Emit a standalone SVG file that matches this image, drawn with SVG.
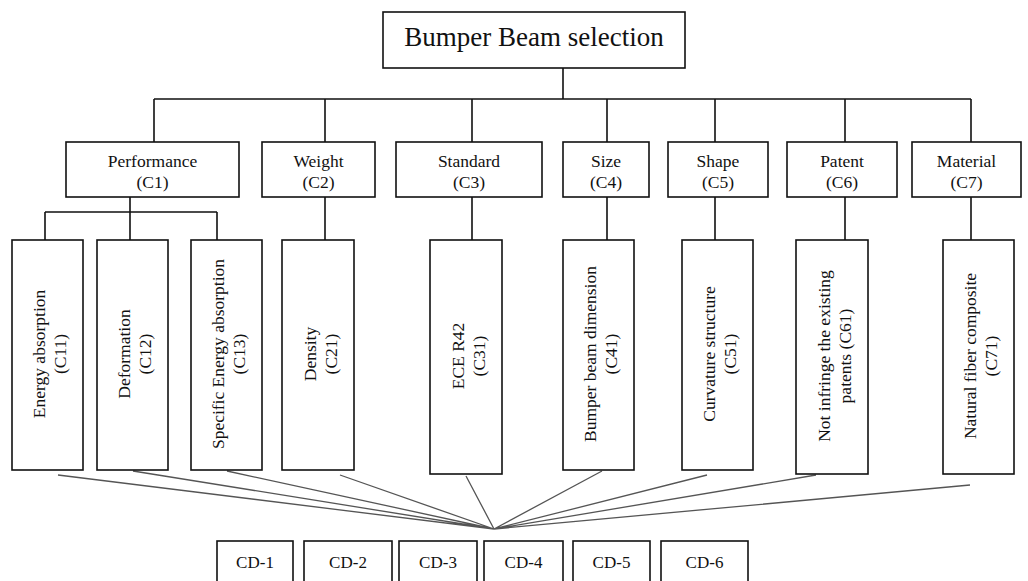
<svg xmlns="http://www.w3.org/2000/svg" width="1028" height="581" viewBox="0 0 1028 581">
<style>
.box{fill:#fff;stroke:#111;stroke-width:1.6}
.t{font-family:"Liberation Serif","Times New Roman",serif;fill:#111;text-anchor:middle}
.s{font-size:17.5px}
.title{font-size:27px}
.cd{font-size:17px}
.tree{fill:none;stroke:#111;stroke-width:1.6}
.fan{fill:none;stroke:#555;stroke-width:1.3}
</style>
<rect width="1028" height="581" fill="#fff"/>
<g id="connectors">
<path class="tree" d="M563 68V99M154 99H971M154 99V142M325 99V142M472 99V142M607 99V142M715 99V142M845 99V142M971 99V142"/>
<path class="tree" d="M130 197V212M45 212H217M45 212V240M130 212V240M217 212V240"/>
<path class="tree" d="M325 197V240M472 197V240M607 197V240M715 197V240M845 197V240M971 197V240"/>
<path class="fan" d="M58 475L494 529M133 471L494 529M227 471L494 529M340 475L494 529M466 476L494 529M602 471L494 529M707 475L494 529M816 475L494 529M970 485L494 529"/>
</g>
<g id="root"><rect class="box" x="383" y="12" width="302" height="56"/><text class="t title" x="534" y="46">Bumper Beam selection</text></g>
<g id="C1"><rect class="box" x="66" y="142" width="173" height="55"/><text class="t s" x="152.5" y="167">Performance</text><text class="t s" x="152.5" y="188">(C1)</text></g>
<g id="C2"><rect class="box" x="262" y="142" width="113" height="55"/><text class="t s" x="318.5" y="167">Weight</text><text class="t s" x="318.5" y="188">(C2)</text></g>
<g id="C3"><rect class="box" x="396" y="142" width="146" height="55"/><text class="t s" x="469" y="167">Standard</text><text class="t s" x="469" y="188">(C3)</text></g>
<g id="C4"><rect class="box" x="563" y="142" width="86" height="55"/><text class="t s" x="606" y="167">Size</text><text class="t s" x="606" y="188">(C4)</text></g>
<g id="C5"><rect class="box" x="668" y="142" width="100" height="55"/><text class="t s" x="718" y="167">Shape</text><text class="t s" x="718" y="188">(C5)</text></g>
<g id="C6"><rect class="box" x="787" y="142" width="110" height="55"/><text class="t s" x="842" y="167">Patent</text><text class="t s" x="842" y="188">(C6)</text></g>
<g id="C7"><rect class="box" x="912" y="142" width="109" height="55"/><text class="t s" x="966.5" y="167">Material</text><text class="t s" x="966.5" y="188">(C7)</text></g>
<g id="C11"><rect class="box" x="12" y="240" width="71" height="230"/><text class="t s" transform="translate(47.5 354) rotate(-90)"><tspan x="0" y="-2.5">Energy absorption</tspan><tspan x="0" y="18.5">(C11)</tspan></text></g>
<g id="C12"><rect class="box" x="97" y="240" width="71" height="230"/><text class="t s" transform="translate(132.5 354) rotate(-90)"><tspan x="0" y="-2.5">Deformation</tspan><tspan x="0" y="18.5">(C12)</tspan></text></g>
<g id="C13"><rect class="box" x="191" y="240" width="71" height="230"/><text class="t s" transform="translate(226.5 354) rotate(-90)"><tspan x="0" y="-2.5">Specific Energy absorption</tspan><tspan x="0" y="18.5">(C13)</tspan></text></g>
<g id="C21"><rect class="box" x="282" y="240" width="72" height="230"/><text class="t s" transform="translate(318 354) rotate(-90)"><tspan x="0" y="-2.5">Density</tspan><tspan x="0" y="18.5">(C21)</tspan></text></g>
<g id="C31"><rect class="box" x="430" y="240" width="72" height="234"/><text class="t s" transform="translate(466 356) rotate(-90)"><tspan x="0" y="-2.5">ECE R42</tspan><tspan x="0" y="18.5">(C31)</tspan></text></g>
<g id="C41"><rect class="box" x="563" y="240" width="71" height="230"/><text class="t s" transform="translate(598.5 354) rotate(-90)"><tspan x="0" y="-2.5">Bumper beam dimension</tspan><tspan x="0" y="18.5">(C41)</tspan></text></g>
<g id="C51"><rect class="box" x="682" y="240" width="71" height="230"/><text class="t s" transform="translate(717.5 354) rotate(-90)"><tspan x="0" y="-2.5">Curvature structure</tspan><tspan x="0" y="18.5">(C51)</tspan></text></g>
<g id="C61"><rect class="box" x="796" y="240" width="72" height="234"/><text class="t s" transform="translate(832 356) rotate(-90)"><tspan x="0" y="-2.5">Not infringe the existing</tspan><tspan x="0" y="18.5">patents (C61)</tspan></text></g>
<g id="C71"><rect class="box" x="943" y="240" width="71" height="234"/><text class="t s" transform="translate(978.5 356) rotate(-90)"><tspan x="0" y="-2.5">Natural fiber composite</tspan><tspan x="0" y="18.5">(C71)</tspan></text></g>
<g id="CD1"><rect class="box" x="217" y="541" width="76" height="44"/><text class="t cd" x="255" y="568">CD-1</text></g>
<g id="CD2"><rect class="box" x="304" y="541" width="88" height="44"/><text class="t cd" x="348" y="568">CD-2</text></g>
<g id="CD3"><rect class="box" x="399" y="541" width="78" height="44"/><text class="t cd" x="438" y="568">CD-3</text></g>
<g id="CD4"><rect class="box" x="484" y="541" width="79" height="44"/><text class="t cd" x="523.5" y="568">CD-4</text></g>
<g id="CD5"><rect class="box" x="573" y="541" width="77" height="44"/><text class="t cd" x="611.5" y="568">CD-5</text></g>
<g id="CD6"><rect class="box" x="661" y="541" width="87" height="44"/><text class="t cd" x="704.5" y="568">CD-6</text></g>
</svg>
